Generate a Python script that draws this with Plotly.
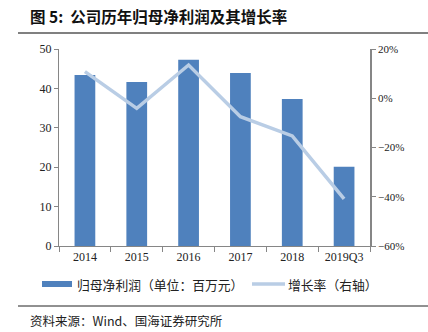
import plotly.graph_objects as go

categories = ["2014", "2015", "2016", "2017", "2018", "2019Q3"]
profit = [43.4, 41.6, 47.3, 43.9, 37.3, 20.1]
growth = [10.8, -4.1, 13.5, -7.5, -15.3, -40.9]
left_ticks = [0, 10, 20, 30, 40, 50]
right_ticks = [-60, -40, -20, 0, 20]
right_labels = ["\u221260%", "\u221240%", "\u221220%", "0%", "20%"]

BAR = "#4F81BD"
LINE = "#B9CDE5"
AX = "#868686"
serif = "Liberation Serif"
cjk = "Noto Sans CJK SC"

fig = go.Figure()
fig.add_trace(go.Bar(x=categories, y=profit, marker=dict(color=BAR, line=dict(width=0)),
                     name="归母净利润（单位：百万元）", yaxis="y"))
fig.add_trace(go.Scatter(x=categories, y=growth, mode="lines", line=dict(color=LINE, width=3.5),
                         name="增长率（右轴）", yaxis="y2"))

W, H = 428, 332
L, R, T, B = 59, 58, 49, 86
PW, PH = W - L - R, H - T - B
fig.update_layout(
    width=W, height=H, margin=dict(l=L, r=R, t=T, b=B),
    paper_bgcolor="white", plot_bgcolor="white", showlegend=False,
    bargap=0.6,
    xaxis=dict(type="category", showline=True, linecolor=AX, linewidth=1,
               ticks="outside", tickson="boundaries", ticklen=5, tickcolor=AX,
               tickfont=dict(family=serif, size=12, color="#222"), showgrid=False),
    yaxis=dict(range=[0, 50], tickvals=left_ticks, showline=True, linecolor=AX, linewidth=1,
               ticks="outside", ticklen=4, tickcolor=AX, showgrid=False, zeroline=False,
               tickfont=dict(family=serif, size=12, color="#222")),
    yaxis2=dict(range=[-60, 20], overlaying="y", side="right", tickvals=right_ticks,
                ticktext=right_labels, showline=True, linecolor=AX, linewidth=1.5,
                ticks="outside", ticklen=4, tickcolor=AX, showgrid=False, zeroline=False,
                tickfont=dict(family=serif, size=11, color="#222")),
)

def px(x):
    return (x - L) / PW

def py(y):
    return (H - B - y) / PH

# title
fig.add_annotation(x=px(28), y=py(16), xref="paper", yref="paper", xanchor="left", yanchor="middle",
                   text="<b>图 5:  公司历年归母净利润及其增长率</b>", showarrow=False,
                   font=dict(family=cjk, size=15.5, color="#111"))
fig.add_shape(type="line", xref="paper", yref="paper", x0=px(18), x1=px(W), y0=py(33), y1=py(33),
              line=dict(color="#808080", width=2))
# legend
fig.add_shape(type="rect", xref="paper", yref="paper", x0=px(42), x1=px(72), y0=py(281), y1=py(287),
              line=dict(width=0), fillcolor=BAR)
fig.add_annotation(x=px(75), y=py(284), xref="paper", yref="paper", xanchor="left", yanchor="middle",
                   text="归母净利润（单位：百万元）", showarrow=False,
                   font=dict(family=cjk, size=12.8, color="#222"))
fig.add_shape(type="line", xref="paper", yref="paper", x0=px(252), x1=px(285), y0=py(284), y1=py(284),
              line=dict(color=LINE, width=3.5))
fig.add_annotation(x=px(286), y=py(284), xref="paper", yref="paper", xanchor="left", yanchor="middle",
                   text="增长率（右轴）", showarrow=False,
                   font=dict(family=cjk, size=12.8, color="#222"))
# bottom rule and source
fig.add_shape(type="line", xref="paper", yref="paper", x0=px(18), x1=px(W), y0=py(306), y1=py(306),
              line=dict(color="#222", width=1))
fig.add_annotation(x=px(28), y=py(320), xref="paper", yref="paper", xanchor="left", yanchor="middle",
                   text="资料来源：Wind、国海证券研究所", showarrow=False,
                   font=dict(family=cjk, size=12.5, color="#222"))

fig.write_html("out.html")
